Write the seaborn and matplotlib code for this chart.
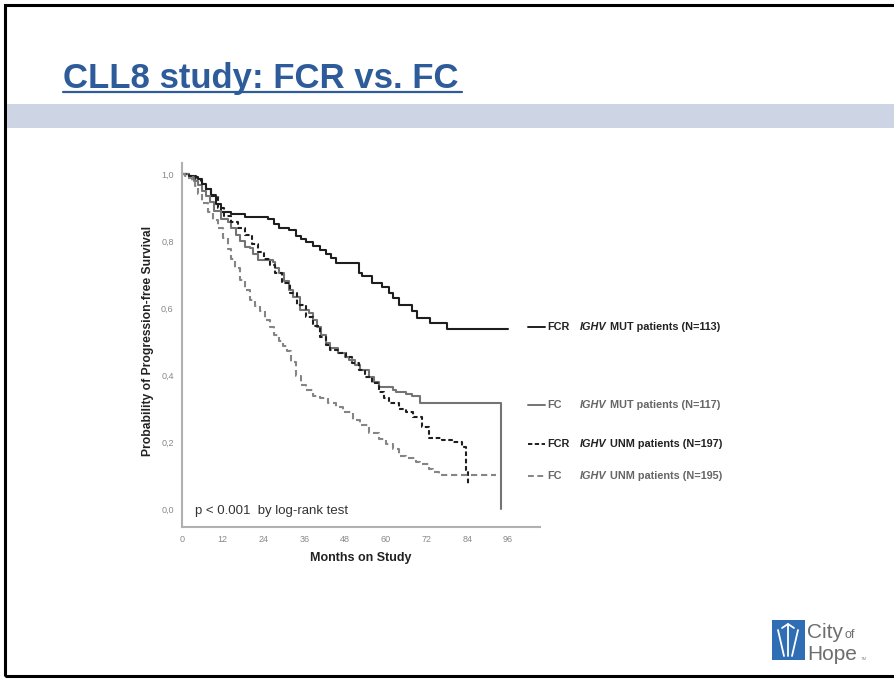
import matplotlib
matplotlib.use("Agg")
import pandas as pd
import matplotlib.pyplot as plt
import seaborn as sns
from matplotlib.lines import Line2D
from matplotlib.patches import Rectangle

W, H = 895, 681

# Kaplan-Meier curves (months on study, probability of PFS)
fcr_mut_months = [0, 2, 3.5, 4.7, 6, 7, 8.5, 10, 11.4, 14.4, 18.5, 25.2, 27, 28.5,
                  31.5, 33.5, 35, 36.6, 38.5, 40.5, 42.5, 44, 45.4, 52, 53, 56, 59,
                  61, 62, 64, 67.7, 69.3, 73, 78, 96]
fcr_mut_pfs = [1.0, 0.995, 0.99, 0.985, 0.97, 0.955, 0.935, 0.91, 0.888, 0.882,
               0.872, 0.866, 0.852, 0.84, 0.832, 0.815, 0.805, 0.797, 0.785, 0.773,
               0.76, 0.748, 0.734, 0.705, 0.695, 0.676, 0.662, 0.645, 0.63, 0.61,
               0.59, 0.57, 0.555, 0.537, 0.537]

fc_mut_months = [0, 2, 3.5, 4.7, 6, 7, 8.2, 9.5, 11.4, 13.5, 14.5, 15.8, 17, 18.5,
                 20, 21, 22.5, 26.7, 27.5, 28.7, 30, 31.5, 32.6, 34.6, 37.5, 38.5,
                 39.6, 41, 42.5, 43.5, 46, 48, 49.3, 51, 52.5, 55, 56.5, 58, 62, 63,
                 66, 67.8, 70, 93.8]
fc_mut_pfs = [1.0, 0.99, 0.98, 0.967, 0.95, 0.935, 0.917, 0.89, 0.865, 0.857, 0.84,
              0.818, 0.8, 0.782, 0.78, 0.76, 0.743, 0.737, 0.72, 0.704, 0.68, 0.655,
              0.633, 0.594, 0.585, 0.565, 0.543, 0.52, 0.495, 0.48, 0.465, 0.455,
              0.445, 0.43, 0.415, 0.395, 0.38, 0.364, 0.355, 0.35, 0.343, 0.337,
              0.316, 0.0]

fcr_unm_months = [0, 2, 4, 5.5, 7, 8.5, 10.6, 12.5, 14.4, 16.5, 18.5, 20.5, 22.3,
                  24, 26, 27.5, 29.5, 31.7, 34, 36.6, 38.5, 40.5, 42.5, 43.5, 46.3,
                  48.4, 50, 52.2, 54, 56, 58, 59.5, 61, 64, 66, 68, 70.8, 72.7, 76.6,
                  79.5, 82.4, 83.5, 84.2]
fcr_unm_pfs = [1.0, 0.995, 0.985, 0.97, 0.955, 0.937, 0.898, 0.875, 0.857, 0.838,
               0.818, 0.79, 0.767, 0.745, 0.728, 0.705, 0.675, 0.645, 0.61, 0.573,
               0.545, 0.513, 0.49, 0.475, 0.465, 0.454, 0.435, 0.415, 0.395, 0.376,
               0.35, 0.33, 0.316, 0.298, 0.29, 0.275, 0.245, 0.213, 0.206, 0.2,
               0.185, 0.116, 0.075]

fc_unm_months = [0, 1, 1.8, 3, 3.8, 4.7, 6, 7.6, 9, 10.6, 12, 13.5, 14.5, 15.5, 17,
                 18.5, 20, 21.5, 22.9, 24.5, 25.8, 27, 28.5, 29.7, 30.8, 32, 33.7, 35,
                 36.6, 38.5, 40.5, 43, 45.4, 47.5, 50.2, 52.5, 55.1, 58, 60, 62, 64,
                 66, 68.8, 70, 72.7, 74, 75.6, 92.5]
fc_unm_pfs = [1.0, 0.995, 0.988, 0.975, 0.965, 0.94, 0.915, 0.887, 0.862, 0.838,
              0.81, 0.775, 0.745, 0.72, 0.685, 0.655, 0.625, 0.605, 0.59, 0.565,
              0.543, 0.52, 0.5, 0.488, 0.472, 0.44, 0.398, 0.37, 0.355, 0.338, 0.331,
              0.315, 0.305, 0.29, 0.267, 0.25, 0.228, 0.21, 0.195, 0.178, 0.158,
              0.152, 0.14, 0.135, 0.12, 0.11, 0.1, 0.1]

groups = ["FCR MUT", "FC MUT", "FCR UNM", "FC UNM"]
arms = ["FCR", "FC", "FCR", "FC"]
descriptions = ["MUT patients (N=113)", "MUT patients (N=117)",
                "UNM patients (N=197)", "UNM patients (N=195)"]

x_ticks = [0, 12, 24, 36, 48, 60, 72, 84, 96]
y_ticks = [0.0, 0.2, 0.4, 0.6, 0.8, 1.0]
y_tick_labels = ["0,0", "0,2", "0,4", "0,6", "0,8", "1,0"]

colors = {"FCR MUT": "#1e1e1e", "FC MUT": "#747474",
          "FCR UNM": "#1e1e1e", "FC UNM": "#858585"}
dashes = {"FCR MUT": "", "FC MUT": "", "FCR UNM": (2.2, 1.3), "FC UNM": (3, 1.8)}
text_colors = {"FCR MUT": "#222222", "FC MUT": "#666666",
               "FCR UNM": "#222222", "FC UNM": "#666666"}
legend_y = {"FCR MUT": 327, "FC MUT": 405, "FCR UNM": 444, "FC UNM": 476}

series = {
    "FCR MUT": (fcr_mut_months, fcr_mut_pfs),
    "FC MUT": (fc_mut_months, fc_mut_pfs),
    "FCR UNM": (fcr_unm_months, fcr_unm_pfs),
    "FC UNM": (fc_unm_months, fc_unm_pfs),
}
df = pd.concat(
    [pd.DataFrame({"month": m, "pfs": p, "group": g}) for g, (m, p) in series.items()],
    ignore_index=True)


def px(x, y):
    # slide pixel position -> figure fraction
    return x / W, 1 - y / H


sns.set_style("white")
plt.rcParams["font.family"] = ["Liberation Sans", "DejaVu Sans"]

fig = plt.figure(figsize=(W / 100, H / 100), dpi=100)
fig.patch.set_facecolor("white")

# slide decoration: frame, title, band
fig.add_artist(Rectangle(px(5, 676), 1.2, (676 - 5) / H, transform=fig.transFigure,
                         fill=False, edgecolor="black", linewidth=2.2))
fig.add_artist(Rectangle(px(7, 128), 1.0, (128 - 104) / H, transform=fig.transFigure,
                         facecolor="#cdd4e4", edgecolor="none"))
fig.text(*px(63, 88), "CLL8 study: FCR vs. FC", fontsize=25, fontweight="bold",
         color="#2e5c9a", ha="left", va="baseline")
fig.add_artist(Line2D([63 / W, 462 / W], [1 - 92 / H, 1 - 92 / H],
                      transform=fig.transFigure, color="#2e5c9a", linewidth=1.6))

# chart
ax = fig.add_axes([182 / W, 1 - 527 / H, (540 - 182) / W, (527 - 163) / H])
sns.lineplot(data=df, x="month", y="pfs", hue="group", style="group",
             hue_order=groups, style_order=groups, palette=colors, dashes=dashes,
             estimator=None, sort=False, drawstyle="steps-post", linewidth=1.5,
             legend=False, ax=ax)

ax.set_xlim(0, 105.4)
ax.set_ylim(-0.054, 1.033)
ax.set_xticks(x_ticks)
ax.set_yticks(y_ticks)
ax.set_yticklabels(y_tick_labels)
ax.tick_params(axis="both", colors="#9a9a9a", labelcolor="#888888", labelsize=6.5,
               length=4, width=1.2, direction="out", pad=2)
sns.despine(ax=ax)
for side in ["left", "bottom"]:
    ax.spines[side].set_color("#b0b0b0")
    ax.spines[side].set_linewidth(1.5)

ax.set_xlabel("Months on Study", fontsize=9, fontweight="bold", color="#222222")
ax.xaxis.set_label_coords(0.5, -0.069)
ax.set_ylabel("Probability of Progression-free Survival", fontsize=8.7,
              fontweight="bold", color="#222222")
ax.yaxis.set_label_coords(-0.078, 0.511)

ax.text(0.036, 0.044, "p < 0.001  by log-rank test", transform=ax.transAxes,
        fontsize=9.5, color="#333333", ha="left", va="center")

# hand-drawn legend to the right of the curves
for i, g in enumerate(groups):
    y = legend_y[g]
    fig.add_artist(Line2D([528 / W, 545 / W], [1 - y / H, 1 - y / H],
                          transform=fig.transFigure, color=colors[g], linewidth=1.4,
                          dashes=dashes[g] if dashes[g] else (None, None)))
    fig.text(*px(547, y), arms[i], fontsize=7.8, fontweight="bold",
             color=text_colors[g], ha="left", va="center")
    ighv = fig.text(*px(580, y), "IGHV", fontsize=7.8, fontweight="bold",
                    fontstyle="italic", color=text_colors[g], ha="left", va="center")
    ax.annotate(" " + descriptions[i], xy=(1, 0.5), xycoords=ighv,
                fontsize=7.8, fontweight="bold", color=text_colors[g],
                ha="left", va="center", annotation_clip=False)

# City of Hope logo
fig.add_artist(Rectangle(px(772, 660), 33 / W, 40 / H, transform=fig.transFigure,
                         facecolor="#2f6db5", edgecolor="none"))
for xs, ys in [([782, 788, 794], [628, 624, 628]), ([788, 788], [624, 656]),
               ([778, 784], [630, 656]), ([798, 792], [630, 656])]:
    fig.add_artist(Line2D([v / W for v in xs], [1 - v / H for v in ys],
                          transform=fig.transFigure, color="white", linewidth=1.3))
fig.text(*px(807, 638), "City", fontsize=15, color="#6e6e6e", ha="left",
         va="baseline")
fig.text(*px(845, 638), "of", fontsize=9, color="#6e6e6e", ha="left", va="baseline")
fig.text(*px(807, 660), "Hope", fontsize=15, color="#6e6e6e", ha="left",
         va="baseline")
fig.text(*px(861, 660), "TM", fontsize=3, color="#8a8a8a", ha="left", va="baseline")

fig.savefig("out.png", dpi=100)
plt.close(fig)
